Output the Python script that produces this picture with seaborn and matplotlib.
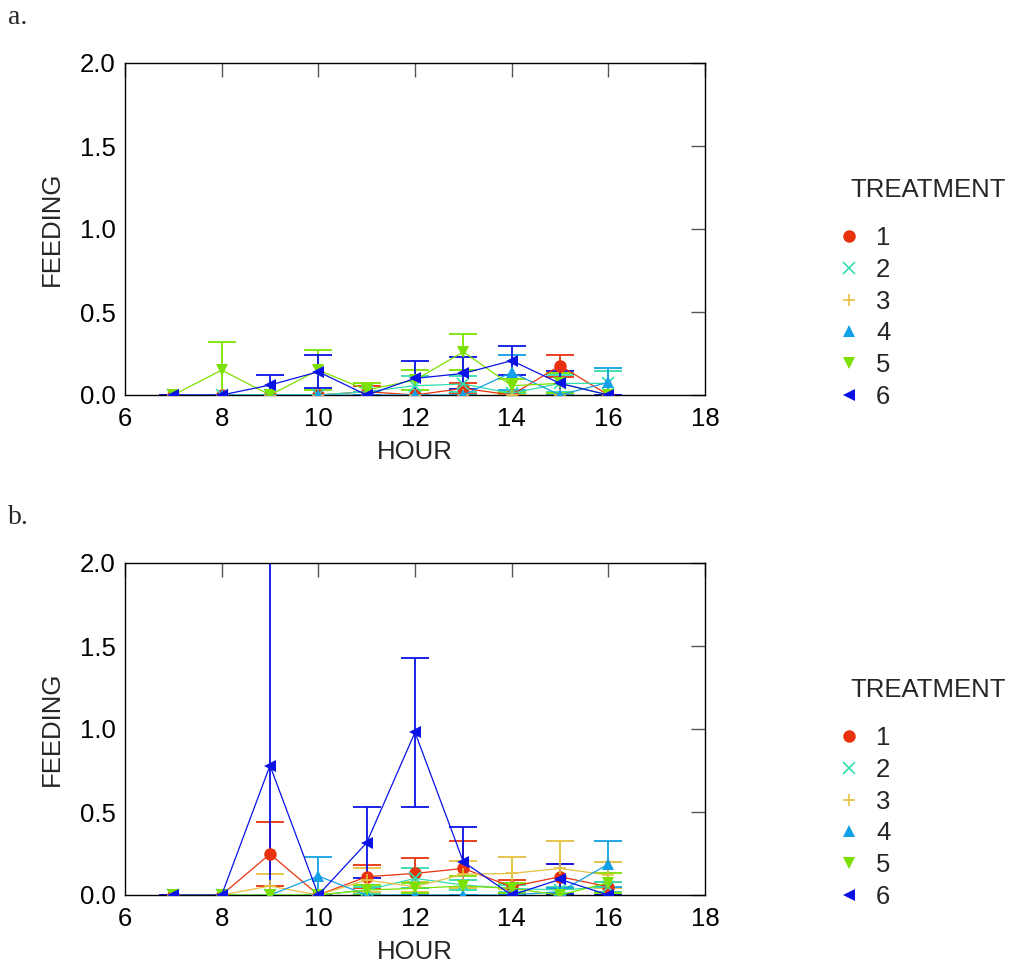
import numpy as np
import pandas as pd
import matplotlib
matplotlib.use("Agg")
import matplotlib.pyplot as plt
from matplotlib.lines import Line2D
import seaborn as sns

# Hours of observation
hours = [7, 8, 9, 10, 11, 12, 13, 14, 15, 16]
treatments = ["1", "2", "3", "4", "5", "6"]

# Panel a: mean feeding per treatment
a_t1 = [0, 0, 0, 0, 0.02, 0, 0.04, 0, 0.177, 0]
a_t2 = [0, 0, 0, 0, 0.02, 0.056, 0.066, 0.01, 0.07, 0.07]
a_t3 = [0, 0, 0, 0, 0, 0, 0, 0, 0, 0]
a_t4 = [0, 0, 0, 0, 0, 0, 0, 0.136, 0, 0.076]
a_t5 = [0, 0.15, 0, 0.15, 0.03, 0.09, 0.26, 0.056, 0.07, 0]
a_t6 = [0, 0, 0.06, 0.14, 0, 0.10, 0.13, 0.207, 0.07, 0]
# Panel a: standard errors
a_e1 = [0, 0, 0, 0, 0.035, 0, 0.03, 0, 0.066, 0]
a_e2 = [0, 0, 0, 0, 0, 0.06, 0.05, 0, 0.05, 0.075]
a_e3 = [0, 0, 0, 0, 0, 0, 0, 0, 0, 0]
a_e4 = [0, 0, 0, 0, 0, 0, 0, 0.107, 0, 0.084]
a_e5 = [0, 0.17, 0, 0.12, 0.04, 0.062, 0.11, 0.04, 0.06, 0]
a_e6 = [0, 0, 0.058, 0.10, 0, 0.105, 0.096, 0.088, 0.076, 0]

# Panel b: mean feeding per treatment
b_t1 = [0, 0, 0.247, 0, 0.11, 0.13, 0.16, 0.05, 0.11, 0.05]
b_t2 = [0, 0, 0, 0, 0.03, 0.10, 0.06, 0.04, 0.03, 0.05]
b_t3 = [0, 0, 0.054, 0, 0.09, 0.05, 0.125, 0.13, 0.16, 0.12]
b_t4 = [0, 0, 0, 0.114, 0, 0, 0, 0, 0.02, 0.186]
b_t5 = [0, 0, 0, 0, 0.03, 0.04, 0.054, 0.04, 0, 0.074]
b_t6 = [0, 0, 0.78, 0, 0.315, 0.98, 0.20, 0, 0.094, 0]
# Panel b: standard errors
b_e1 = [0, 0, 0.19, 0, 0.07, 0.09, 0.165, 0.04, 0.075, 0.03]
b_e2 = [0, 0, 0, 0, 0.02, 0.06, 0.03, 0.02, 0.02, 0.03]
b_e3 = [0, 0, 0.073, 0, 0.07, 0.03, 0.08, 0.096, 0.165, 0.08]
b_e4 = [0, 0, 0, 0.112, 0, 0, 0, 0, 0.02, 0.14]
b_e5 = [0, 0, 0, 0, 0.03, 0.03, 0.06, 0.03, 0, 0.06]
b_e6 = [0, 0, 1.22, 0, 0.215, 0.45, 0.21, 0, 0.09, 0]

colors = {"1": "#E8320E", "2": "#33DDB0", "3": "#E6C040",
          "4": "#14A0E6", "5": "#7CE000", "6": "#0A12E6"}
markers = {"1": "o", "2": "x", "3": "+", "4": "^", "5": "v", "6": "<"}
FS = 18.5


def build_frame(means, errs):
    rows = []
    for t, m, e in zip(treatments, means, errs):
        for h, v, s in zip(hours, m, e):
            rows.append({"HOUR": h, "FEEDING": v, "SE": s, "TREATMENT": t})
    return pd.DataFrame(rows)


panel_a = build_frame([a_t1, a_t2, a_t3, a_t4, a_t5, a_t6],
                      [a_e1, a_e2, a_e3, a_e4, a_e5, a_e6])
panel_b = build_frame([b_t1, b_t2, b_t3, b_t4, b_t5, b_t6],
                      [b_e1, b_e2, b_e3, b_e4, b_e5, b_e6])

sns.set_theme(style="white")
plt.rcParams["font.family"] = ["Liberation Sans", "DejaVu Sans"]

fig = plt.figure(figsize=(10.10, 9.68), dpi=100)
W, H = 1010, 968


def fy(px):
    return 1 - px / H


def draw_panel(df, top_px, letter, letter_y):
    ax = fig.add_axes([125 / W, (H - top_px - 332) / H, 580 / W, 332 / H])
    for t in treatments:
        sub = df[df["TREATMENT"] == t]
        ax.errorbar(sub["HOUR"], sub["FEEDING"], yerr=sub["SE"], fmt="none",
                    ecolor=colors[t], elinewidth=1.3, capsize=10, capthick=1.3,
                    zorder=2)
        sns.lineplot(data=sub, x="HOUR", y="FEEDING", ax=ax,
                     color=colors[t], marker=markers[t], markersize=9,
                     markeredgewidth=1.2 if t in ("2", "3") else 0,
                     markeredgecolor=colors[t], linewidth=0.9,
                     errorbar=None, legend=False, zorder=3)
    ax.set_xlim(6, 18)
    ax.set_ylim(0, 2.0)
    ax.set_xticks([6, 8, 10, 12, 14, 16, 18])
    ax.set_yticks([0.0, 0.5, 1.0, 1.5, 2.0])
    ax.set_yticklabels(["0.0", "0.5", "1.0", "1.5", "2.0"])
    ax.tick_params(direction="in", length=10, width=1, color="#555555",
                   labelsize=FS, top=True, right=True, labelcolor="black")
    ax.tick_params(axis="x", pad=9)
    ax.tick_params(axis="y", pad=6.5)
    for sp in ax.spines.values():
        sp.set_color("black")
        sp.set_linewidth(1)
    ax.set_xlabel("HOUR", fontsize=FS, labelpad=6)
    ax.set_ylabel("FEEDING", fontsize=FS, labelpad=12)

    # Legend: title as its own text, entries in a borderless legend below it
    fig.text(850 / W, fy(top_px + 127), "TREATMENT", fontsize=FS,
             va="center", ha="left")
    handles = [Line2D([], [], linestyle="none", marker=markers[t],
                      color=colors[t], markersize=9,
                      markeredgewidth=1.2 if t in ("2", "3") else 0)
               for t in treatments]
    fig.legend(handles, treatments, loc="upper left",
               bbox_to_anchor=(828.5 / W, fy(top_px + 153)),
               frameon=False, fontsize=FS, handlelength=0.8,
               handletextpad=0.65, labelspacing=0.30, borderaxespad=0)
    fig.text(8 / W, fy(letter_y), letter, fontsize=20,
             family=["Liberation Serif", "DejaVu Serif"], va="center")
    return ax


draw_panel(panel_a, 63, "a.", 17)
draw_panel(panel_b, 563, "b.", 517)

fig.savefig("out.png", dpi=100)
